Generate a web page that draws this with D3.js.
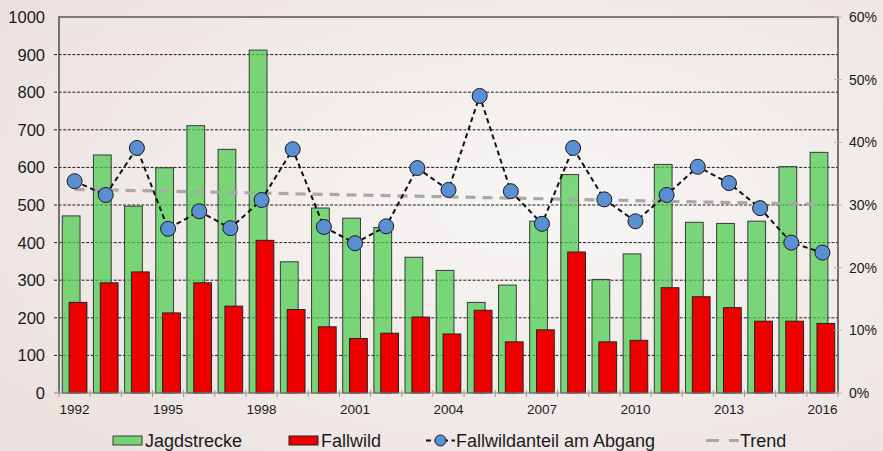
<!DOCTYPE html>
<html>
<head>
<meta charset="utf-8">
<script src="https://cdn.jsdelivr.net/npm/d3@7"></script>
<style>
  html, body { margin: 0; padding: 0; background: #f2eeec; }
  svg { display: block; font-family: "Liberation Sans", Arial, sans-serif; }
</style>
</head>
<body>
<svg id="chart" width="883" height="451"></svg>
<script>
// Jahre und Werte
const years = [1992,1993,1994,1995,1996,1997,1998,1999,2000,2001,2002,2003,2004,
               2005,2006,2007,2008,2009,2010,2011,2012,2013,2014,2015,2016];
const jagdstrecke = [471,633,497,599,711,648,912,349,492,465,440,361,326,
                     241,287,457,581,302,370,608,454,451,457,602,640];
const fallwild = [241,293,322,213,293,231,406,222,176,145,159,202,157,
                  220,136,168,375,136,140,280,256,227,191,191,185];
const anteil = [33.8,31.6,39.1,26.2,29.0,26.3,30.8,38.9,26.5,23.9,26.6,35.9,32.4,
                47.4,32.2,27.0,39.1,30.9,27.4,31.6,36.1,33.5,29.5,24.0,22.4];
const trendYears = [1992, 2016];
const trendValues = [32.5, 30.1];
const leftTicks = [0,100,200,300,400,500,600,700,800,900,1000];
const rightTicks = [0,10,20,30,40,50,60];
const xLabelYears = [1992,1995,1998,2001,2004,2007,2010,2013,2016];

const svg = d3.select("#chart");
const W = 883, H = 451;
const m = { left: 59, right: 838, top: 17, bottom: 393 };

// Hintergrund mit leichtem Verlauf
const defs = svg.append("defs");
const grad = defs.append("radialGradient").attr("id", "bg")
  .attr("cx", "62%").attr("cy", "45%").attr("r", "75%");
grad.append("stop").attr("offset", "0%").attr("stop-color", "#f7f6f5");
grad.append("stop").attr("offset", "100%").attr("stop-color", "#ebe2df");
svg.append("rect").attr("width", W).attr("height", H).attr("fill", "url(#bg)");

const x = d3.scaleBand().domain(years).range([m.left, m.right]).padding(0);
const y = d3.scaleLinear().domain([0, 1000]).range([m.bottom, m.top]);
const yr = d3.scaleLinear().domain([0, 60]).range([m.bottom, m.top]);
const bw = x.bandwidth();

// Gitterlinien
svg.append("g").selectAll("line")
  .data(leftTicks.filter(t => t > 0 && t < 1000))
  .join("line")
  .attr("x1", m.left - 5).attr("x2", m.right)
  .attr("y1", d => y(d)).attr("y2", d => y(d))
  .attr("stroke", "#1e1e1e").attr("stroke-width", 1)
  .attr("stroke-dasharray", "3,1.6");

// Jagdstrecke (grün)
svg.append("g").selectAll("rect")
  .data(years.map((yr_, i) => ({ year: yr_, v: jagdstrecke[i] })))
  .join("rect")
  .attr("x", d => x(d.year) + bw * 0.105)
  .attr("width", bw * 0.57)
  .attr("y", d => y(d.v))
  .attr("height", d => y(0) - y(d.v))
  .attr("fill", "rgba(80,204,82,0.75)")
  .attr("stroke", "#3a3a3a").attr("stroke-width", 1);

// Fallwild (rot)
svg.append("g").selectAll("rect")
  .data(years.map((yr_, i) => ({ year: yr_, v: fallwild[i] })))
  .join("rect")
  .attr("x", d => x(d.year) + bw * 0.325)
  .attr("width", bw * 0.57)
  .attr("y", d => y(d.v))
  .attr("height", d => y(0) - y(d.v))
  .attr("fill", "#ee0000")
  .attr("stroke", "#222").attr("stroke-width", 1);

// Achsenrahmen
const frame = svg.append("g").attr("fill", "none");
frame.append("path")
  .attr("d", `M${m.left},${m.bottom}V${m.top}H${m.right}V${m.bottom}`)
  .attr("stroke", "#555").attr("stroke-width", 1.6);
frame.append("line")
  .attr("x1", m.left - 5).attr("x2", m.right)
  .attr("y1", m.bottom).attr("y2", m.bottom)
  .attr("stroke", "#8a8a8a").attr("stroke-width", 1.2);

// x-Achse: Teilstriche an den Kategoriegrenzen
svg.append("g").selectAll("line")
  .data(years.concat([null]))
  .join("line")
  .attr("x1", (d, i) => m.left + i * bw).attr("x2", (d, i) => m.left + i * bw)
  .attr("y1", m.bottom - 3).attr("y2", m.bottom + 4)
  .attr("stroke", "#9a9a9a").attr("stroke-width", 1);

svg.append("g").selectAll("text")
  .data(xLabelYears)
  .join("text")
  .attr("x", d => x(d) + bw / 2)
  .attr("y", m.bottom + 21)
  .attr("text-anchor", "middle")
  .attr("font-size", 13.5)
  .attr("fill", "#1a1a1a")
  .text(d => d);

// linke Achse
svg.append("g").selectAll("text")
  .data(leftTicks)
  .join("text")
  .attr("x", 45)
  .attr("y", d => y(d))
  .attr("dy", "0.36em")
  .attr("text-anchor", "end")
  .attr("font-size", 16.5)
  .attr("fill", "#1a1a1a")
  .text(d => d);

// rechte Achse
svg.append("g").selectAll("line")
  .data(rightTicks)
  .join("line")
  .attr("x1", m.right - 4).attr("x2", m.right + 4)
  .attr("y1", d => yr(d)).attr("y2", d => yr(d))
  .attr("stroke", "#b0b0b0").attr("stroke-width", 1);
svg.append("g").selectAll("text")
  .data(rightTicks)
  .join("text")
  .attr("x", 849)
  .attr("y", d => yr(d))
  .attr("dy", "0.36em")
  .attr("font-size", 14)
  .attr("fill", "#1a1a1a")
  .text(d => d + "%");

// Trendlinie
const cx = d => x(d) + bw / 2;
svg.append("line")
  .attr("x1", cx(trendYears[0])).attr("y1", yr(trendValues[0]))
  .attr("x2", cx(trendYears[1])).attr("y2", yr(trendValues[1]))
  .attr("stroke", "#a8a8a8").attr("stroke-width", 3.2)
  .attr("stroke-dasharray", "10,7");

// Fallwildanteil am Abgang
const pts = years.map((yr_, i) => ({ year: yr_, v: anteil[i] }));
svg.append("path")
  .datum(pts)
  .attr("fill", "none")
  .attr("stroke", "#111").attr("stroke-width", 2)
  .attr("stroke-dasharray", "5,3.5")
  .attr("d", d3.line().x(d => cx(d.year)).y(d => yr(d.v)));
svg.append("g").selectAll("circle")
  .data(pts)
  .join("circle")
  .attr("cx", d => cx(d.year))
  .attr("cy", d => yr(d.v))
  .attr("r", 7.5)
  .attr("fill", "#5a8fd2")
  .attr("stroke", "#1a1a1a").attr("stroke-width", 1);

// Legende
const lg = svg.append("g").attr("font-size", 18).attr("fill", "#1a1a1a");
const ly = 440.5;
lg.append("rect").attr("x", 113).attr("y", ly - 4.5).attr("width", 29).attr("height", 9)
  .attr("fill", "rgba(80,204,82,0.75)").attr("stroke", "#3a3a3a");
lg.append("text").attr("x", 145).attr("y", ly).attr("dy", "0.36em").text("Jagdstrecke");
lg.append("rect").attr("x", 289).attr("y", ly - 4.5).attr("width", 29).attr("height", 9)
  .attr("fill", "#ee0000").attr("stroke", "#222");
lg.append("text").attr("x", 321).attr("y", ly).attr("dy", "0.36em").text("Fallwild");
lg.append("line").attr("x1", 426).attr("x2", 455).attr("y1", ly).attr("y2", ly)
  .attr("stroke", "#111").attr("stroke-width", 2).attr("stroke-dasharray", "5,3.5");
lg.append("circle").attr("cx", 440.5).attr("cy", ly).attr("r", 5.5)
  .attr("fill", "#5a8fd2").attr("stroke", "#1a1a1a");
lg.append("text").attr("x", 456).attr("y", ly).attr("dy", "0.36em").text("Fallwildanteil am Abgang");
lg.append("line").attr("x1", 706).attr("x2", 739).attr("y1", ly).attr("y2", ly)
  .attr("stroke", "#a8a8a8").attr("stroke-width", 3.2).attr("stroke-dasharray", "13,10");
lg.append("text").attr("x", 740).attr("y", ly).attr("dy", "0.36em").text("Trend");
</script>
</body>
</html>
